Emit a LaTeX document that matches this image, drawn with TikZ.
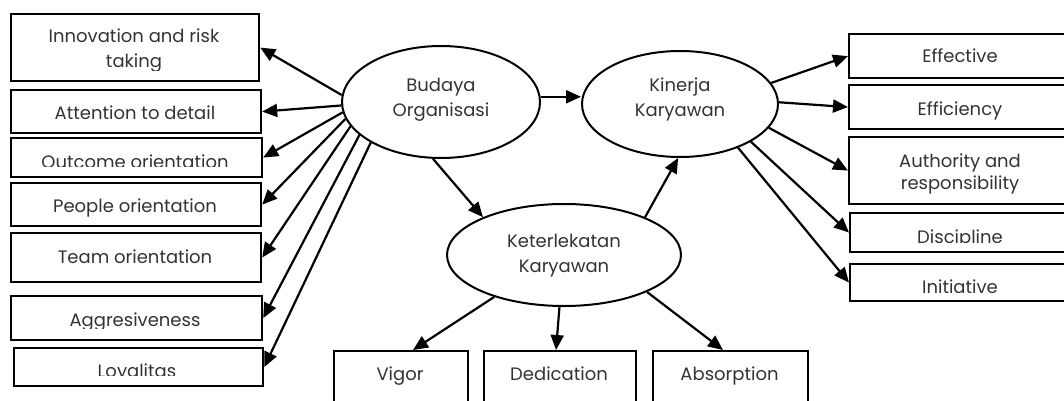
\documentclass[tikz,border=0pt]{standalone}
\usepackage{fontspec}
\setmainfont{Poppins}
\usetikzlibrary{arrows.meta,shapes.geometric}
\begin{document}
\begin{tikzpicture}[x=1pt,y=-1pt,
  box/.style={draw, line width=2.2pt, inner sep=0pt, anchor=north west},
  txt/.style={text=black!80, font=\fontsize{18}{25}\selectfont, inner sep=0pt, anchor=base},
  ell/.style={draw, ellipse, line width=2pt, inner sep=0pt, align=center, text=black!80, font=\fontsize{18}{25}\selectfont},
  arr/.style={line width=2.2pt, -{Triangle[length=15pt,width=13pt]}},
]
\useasboundingbox (0,0) rectangle (1064,401);
\clip (0,0) rectangle (1064,401);
\fill[white] (0,0) rectangle (1064,401);

% left boxes
\node[box, minimum width=248, minimum height=67] (inn) at (10,13) {};
\node[box, minimum width=250, minimum height=43] (att) at (10,89) {};
\node[box, minimum width=251, minimum height=39] (out) at (10,137) {};
\node[box, minimum width=250, minimum height=43] (peo) at (10,182) {};
\node[box, minimum width=250, minimum height=49] (team) at (10,232) {};
\node[box, minimum width=251, minimum height=44] (agg) at (10,295) {};
\node[box, minimum width=249, minimum height=38] (loy) at (13,347) {};

% right boxes
\node[box, minimum width=224, minimum height=44] (eff) at (848,33) {};
\node[box, minimum width=224, minimum height=44] (effi) at (848,84) {};
\node[box, minimum width=224, minimum height=67] (auth) at (848,136) {};
\node[box, minimum width=223, minimum height=39] (disc) at (849,212) {};
\node[box, minimum width=223, minimum height=37] (init) at (849,263) {};

% bottom boxes
\node[box, minimum width=134, minimum height=70] (vig) at (333,350) {};
\node[box, minimum width=152, minimum height=70] (ded) at (483,350) {};
\node[box, minimum width=155, minimum height=70] (abs) at (652,350) {};

% texts
\begin{scope}\clip (10,13) rectangle (258,71);
\node[txt] (inn-t1) at (134,43) {Innovation and risk};
\node[txt] (inn-t2) at (134,68) {taking};
\end{scope}
\node[txt] (att-t) at (135,119) {Attention to detail};
\begin{scope}\clip (10,137) rectangle (261,166);
\node[txt] (out-t) at (135,168) {Outcome orientation};
\end{scope}
\node[txt] (peo-t) at (135,212) {People orientation};
\node[txt] (team-t) at (135,263) {Team orientation};
\begin{scope}\clip (10,295) rectangle (261,328);
\node[txt] (agg-t) at (135,326) {Aggresiveness};
\end{scope}
\begin{scope}\clip (13,347) rectangle (262,375);
\node[txt] (loy-t) at (137,377) {Loyalitas};
\end{scope}

\node[txt] (eff-t) at (960,63) {Effective};
\node[txt] (effi-t) at (960,115) {Efficiency};
\node[txt] (auth-t1) at (960,167) {Authority and};
\node[txt] (auth-t2) at (960,189) {responsibility};
\begin{scope}\clip (849,212) rectangle (1072,242);
\node[txt] (disc-t) at (960,243) {Discipline};
\end{scope}
\begin{scope}\clip (849,263) rectangle (1072,292);
\node[txt] (init-t) at (960,293) {Initiative};
\end{scope}

\node[txt] (vig-t) at (400,380) {Vigor};
\node[txt] (ded-t) at (559,380) {Dedication};
\node[txt] (abs-t) at (729.5,380) {Absorption};

% ellipses
\node[ell, minimum width=198, minimum height=112] (bud) at (441,102) {};
\node[ell, minimum width=196, minimum height=106] (kin) at (680,104) {};
\node[ell, minimum width=234, minimum height=102] (ket) at (564,255) {};
\node[txt] (bud-t1) at (441,92) {Budaya};
\node[txt] (bud-t2) at (441,117) {Organisasi};
\node[txt] (kin-t1) at (680,92) {Kinerja};
\node[txt] (kin-t2) at (680,117) {Karyawan};
\node[txt] (ket-t1) at (564,247) {Keterlekatan};
\node[txt] (ket-t2) at (564,272) {Karyawan};

% arrows
\draw[arr] (bud.176) -- (inn.east);
\draw[arr] (bud.182) -- (att.east);
\draw[arr] (bud.186) -- (out.east);
\draw[arr] (bud.190) -- (peo.east);
\draw[arr] (bud.195) -- (team.east);
\draw[arr] (bud.202) -- (agg.east);
\draw[arr] (bud.210) -- (loy.east);

\draw[arr] (bud.3) -- (bud.3 -| kin.west);
\draw[arr] (bud.262) -- (ket.155);
\draw[arr] (ket.25) -- (kin.268);

\draw[arr] (kin.13) -- (eff.west);
\draw[arr] (kin.1) -- (effi.west);
\draw[arr] (kin.345) -- (auth.west);
\draw[arr] (kin.332) -- (disc.west);
\draw[arr] (kin.323) -- (init.west);

\draw[arr] (ket.211) -- ([xshift=80]vig.north west);
\draw[arr] (ket.265) -- ([xshift=73]ded.north west);
\draw[arr] (ket.336) -- ([xshift=71]abs.north west);
\end{tikzpicture}
\end{document}
